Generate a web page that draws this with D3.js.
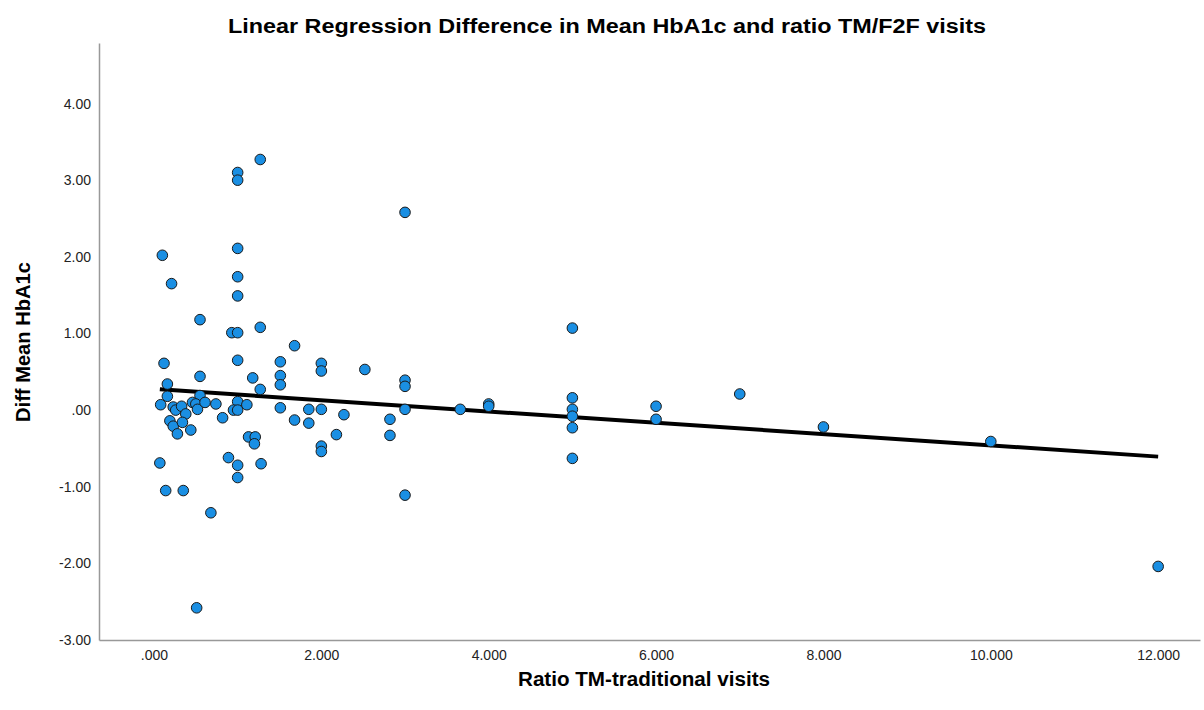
<!DOCTYPE html>
<html>
<head>
<meta charset="utf-8">
<script src="https://cdn.jsdelivr.net/npm/d3@7"></script>
<style>
    body { margin: 0; background: #fff; }
    text { font-family: "Liberation Sans", Arial, sans-serif; fill: #000; }
    .axis path { stroke: #999; stroke-width: 1.5; }
    .axis text { font-size: 14px; fill: #222; }
    .title { font-size: 20px; font-weight: bold; }
    .axis-label { font-size: 20px; font-weight: bold; }
</style>
</head>
<body>
<div id="chart"></div>
<script>
// ratio of TM to traditional visits
const ratioTM = [
    0.10, 0.21, 1.00, 1.00, 1.00, 0.55, 0.93, 1.00, 1.27, 1.68,
    0.12, 1.00, 1.51, 2.00, 2.00, 0.55, 1.18, 1.51, 1.51, 1.27,
    0.16, 0.16, 0.55, 0.08, 0.23, 0.26, 0.33, 0.46, 0.50, 0.52,
    0.61, 0.74, 1.00, 1.11, 0.95, 1.00, 1.51, 1.85, 2.00, 2.27,
    0.82, 0.38, 1.68, 1.85, 0.19, 0.23, 0.28, 0.34, 0.44, 1.13,
    1.21, 1.20, 0.07, 0.89, 1.00, 1.28, 1.00, 0.14, 0.35, 0.68,
    2.18, 2.00, 2.00, 0.51, 1.27, 1.00, 1.00, 2.52, 3.00, 3.00,
    3.00, 2.82, 2.82, 3.00, 3.66, 4.00, 4.00, 3.00, 5.00, 5.00,
    5.00, 5.00, 5.00, 5.00, 6.00, 6.00, 7.00, 8.00, 10.00, 12.00
];
// difference in mean HbA1c
const diffHbA1c = [
    2.02, 1.65, 2.11, 1.74, 1.49, 1.18, 1.01, 1.01, 1.08, 0.84,
    0.61, 0.65, 0.63, 0.61, 0.51, 0.44, 0.42, 0.45, 0.33, 0.27,
    0.34, 0.18, 0.19, 0.07, 0.04, 0.00, 0.05, 0.10, 0.08, 0.01,
    0.10, 0.08, 0.11, 0.07, 0.00, 0.00, 0.03, 0.01, 0.01, -0.06,
    -0.10, -0.05, -0.13, -0.17, -0.14, -0.21, -0.31, -0.16, -0.26, -0.35,
    -0.35, -0.44, -0.69, -0.62, -0.72, -0.70, -0.88, -1.05, -1.05, -1.34,
    -0.32, -0.47, -0.54, -2.58, 3.27, 3.10, 3.00, 0.53, 0.39, 0.31,
    0.01, -0.12, -0.33, -1.11, 0.01, 0.08, 0.05, 2.58, 1.07, 0.16,
    0.01, -0.08, -0.23, -0.63, 0.05, -0.12, 0.21, -0.22, -0.41, -2.04
];
// fitted line
const fitIntercept = 0.276;
const fitSlope = -0.0736;

const xTicks = [0, 2, 4, 6, 8, 10, 12];
const yTicks = [-3, -2, -1, 0, 1, 2, 3, 4];

const points = ratioTM.map((x, i) => ({ x: x, y: diffHbA1c[i] }));

const width = 1204, height = 710;
const margin = { top: 43, right: 4, bottom: 70, left: 99 };

const svg = d3.select("#chart").append("svg")
    .attr("width", width)
    .attr("height", height);

const xScale = d3.scaleLinear().domain([-0.657, 12.5])
    .range([margin.left, width - margin.right]);
const yScale = d3.scaleLinear().domain([-3, 4.79])
    .range([height - margin.bottom, margin.top]);

// SPSS style labels: ".000", ".00"
const dropZero = s => s.replace(/^(-?)0\./, "$1.");

svg.append("g")
    .attr("class", "axis")
    .attr("transform", `translate(0,${height - margin.bottom})`)
    .call(d3.axisBottom(xScale).tickValues(xTicks).tickSize(0).tickPadding(10)
        .tickFormat(d => dropZero(d3.format(".3f")(d))));

svg.append("g")
    .attr("class", "axis")
    .attr("transform", `translate(${margin.left},0)`)
    .call(d3.axisLeft(yScale).tickValues(yTicks).tickSize(0).tickPadding(8)
        .tickFormat(d => dropZero(d3.format(".2f")(d).replace("−", "-"))));

// regression line
const xExt = d3.extent(ratioTM);
svg.append("line")
    .attr("x1", xScale(xExt[0]))
    .attr("y1", yScale(fitIntercept + fitSlope * xExt[0]))
    .attr("x2", xScale(xExt[1]))
    .attr("y2", yScale(fitIntercept + fitSlope * xExt[1]))
    .attr("stroke", "#000")
    .attr("stroke-width", 4);

svg.append("g").selectAll("circle")
    .data(points)
    .join("circle")
    .attr("cx", d => xScale(d.x))
    .attr("cy", d => yScale(d.y))
    .attr("r", 5.3)
    .attr("fill", "#1a8fe3")
    .attr("stroke", "#1a1a1a")
    .attr("stroke-width", 1);

svg.append("text")
    .attr("class", "title")
    .attr("x", 607)
    .attr("y", 33)
    .attr("text-anchor", "middle")
    .attr("textLength", 758)
    .attr("lengthAdjust", "spacingAndGlyphs")
    .text("Linear Regression Difference in Mean HbA1c and ratio TM/F2F visits");

svg.append("text")
    .attr("class", "axis-label")
    .attr("x", 644)
    .attr("y", 686)
    .attr("text-anchor", "middle")
    .attr("textLength", 252)
    .attr("lengthAdjust", "spacingAndGlyphs")
    .text("Ratio TM-traditional visits");

svg.append("text")
    .attr("class", "axis-label")
    .attr("transform", "rotate(-90)")
    .attr("x", -342)
    .attr("y", 30)
    .attr("text-anchor", "middle")
    .attr("textLength", 160)
    .attr("lengthAdjust", "spacingAndGlyphs")
    .text("Diff Mean HbA1c");
</script>
</body>
</html>
